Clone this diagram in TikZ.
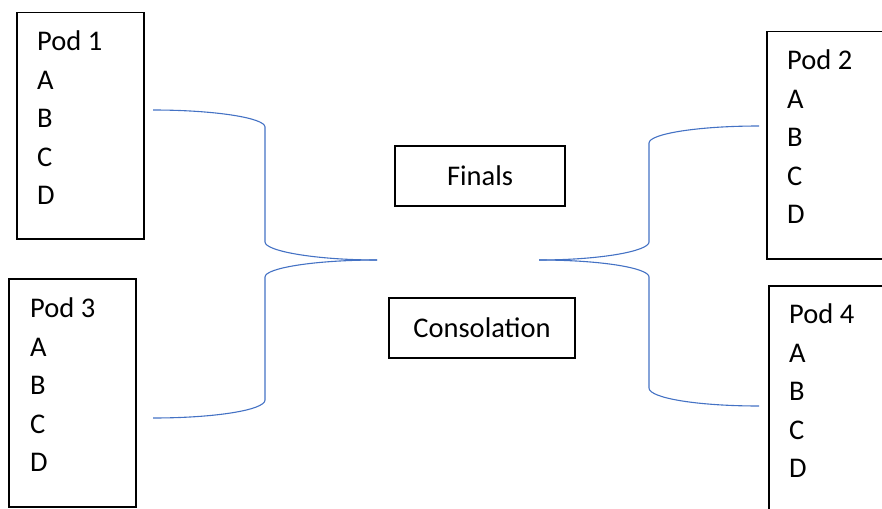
\documentclass[tikz,border=0pt]{standalone}
\usepackage{fontspec}
\setmainfont{Carlito}
\usetikzlibrary{positioning}
\definecolor{linkblue}{HTML}{4472C4}
\tikzstyle{pod} = [rectangle, draw=black, line width=1.5pt, minimum width=127pt, minimum height=226pt, anchor=north west, inner sep=0pt]
\tikzstyle{podtext} = [align=left, inner sep=0pt, font=\fontsize{28.5}{38.5}\selectfont]
\tikzstyle{stage} = [rectangle, draw=black, line width=1.5pt, minimum height=60pt, text centered, font=\fontsize{28.5}{34}\selectfont]
\tikzstyle{bracket} = [draw=linkblue, line width=1.1pt]

\begin{document}
\begin{tikzpicture}[x=1pt, y=-1pt]
\useasboundingbox (0,0) rectangle (882,508);

\node (pod1) [pod] at (16,12) {};
\node (pod1-text) [podtext, below right=19pt and 21pt of pod1.north west] {Pod 1\\A\\B\\C\\D};

\node (pod3) [pod, minimum height=228pt] at (8,278) {};
\node (pod3-text) [podtext, below right=20pt and 22pt of pod3.north west] {Pod 3\\A\\B\\C\\D};

\node (pod2) [pod, minimum width=140pt, minimum height=227pt] at (766,31) {};
\node (pod2-text) [podtext, below right=19pt and 21pt of pod2.north west] {Pod 2\\A\\B\\C\\D};

\node (pod4) [pod, minimum width=140pt, minimum height=227pt] at (768,285) {};
\node (pod4-text) [podtext, below right=19pt and 21pt of pod4.north west] {Pod 4\\A\\B\\C\\D};

\node (finals) [stage, minimum width=170pt] at (480,176) {Finals};
\node (consolation) [stage, minimum width=186pt] at (482,328) {Consolation};

% Brackets
\coordinate (left-tip) at (377,260);
\coordinate (right-tip) at (539,260);
\coordinate (pod1-out) at (153,110);
\coordinate (pod3-out) at (153,418);
\coordinate (pod2-in) at (759,126);
\coordinate (pod4-in) at (759,406);

\draw [bracket] (pod1-out) .. controls +(62,0) and +(0,-9) .. ++(112,17) -- ++(0,115) .. controls +(0,9) and +(-62,0) .. (left-tip);
\draw [bracket] (left-tip) .. controls +(-62,0) and +(0,-9) .. ++(-112,17) -- ++(0,123) .. controls +(0,10) and +(62,0) .. (pod3-out);
\draw [bracket] (pod2-in) .. controls +(-62,0) and +(0,-9) .. ++(-110,17) -- ++(0,99) .. controls +(0,9) and +(62,0) .. (right-tip);
\draw [bracket] (pod4-in) .. controls +(-62,0) and +(0,10) .. ++(-110,-18) -- ++(0,-111) .. controls +(0,-9) and +(62,0) .. (right-tip);

\end{tikzpicture}
\end{document}
